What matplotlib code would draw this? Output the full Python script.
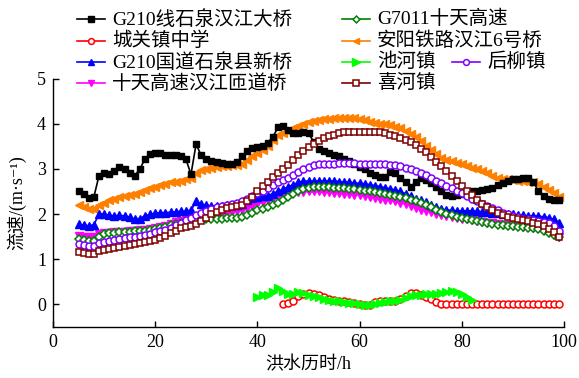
import numpy as np
import matplotlib
matplotlib.use("Agg")
import matplotlib.pyplot as plt
from matplotlib.lines import Line2D

plt.rcParams['font.family'] = ['Liberation Serif', 'Noto Sans CJK SC', 'DejaVu Serif']

# ---------------- data ----------------
hours = list(range(5, 100))

g210_bridge = [2.52, 2.45, 2.35, 2.38, 2.85, 2.90, 2.88, 2.95, 3.05, 3.00,
               2.90, 2.85, 3.00, 3.22, 3.33, 3.36, 3.35, 3.32, 3.30, 3.30,
               3.28, 3.22, 2.88, 3.55, 3.30, 3.22, 3.18, 3.15, 3.13, 3.12,
               3.12, 3.15, 3.28, 3.40, 3.47, 3.48, 3.50, 3.58, 3.70, 3.92,
               3.95, 3.86, 3.80, 3.80, 3.82, 3.80, 3.60, 3.45, 3.40, 3.35,
               3.32, 3.28, 3.22, 3.17, 3.12, 3.05, 3.00, 2.92, 2.86, 2.82,
               2.82, 2.94, 2.90, 2.80, 2.70, 2.60, 2.72, 2.80, 2.76, 2.68,
               2.60, 2.50, 2.42, 2.40, 2.42, 2.44, 2.47, 2.50, 2.52, 2.53,
               2.55, 2.58, 2.64, 2.68, 2.73, 2.77, 2.78, 2.80, 2.80, 2.72,
               2.50, 2.40, 2.33, 2.32, 2.32]

anyang_bridge = [2.20, 2.15, 2.12, 2.12, 2.20, 2.25, 2.30, 2.34, 2.38, 2.41,
                 2.43, 2.45, 2.49, 2.53, 2.57, 2.61, 2.64, 2.67, 2.70, 2.72,
                 2.74, 2.77, 2.80, 2.90, 2.97, 3.00, 3.03, 3.05, 3.06, 3.07,
                 3.08, 3.09, 3.12, 3.20, 3.28, 3.35, 3.43, 3.52, 3.65, 3.75,
                 3.80, 3.84, 3.90, 3.96, 4.00, 4.04, 4.07, 4.09, 4.10, 4.11,
                 4.12, 4.13, 4.14, 4.14, 4.13, 4.11, 4.08, 4.05, 4.02, 4.00,
                 3.99, 3.97, 3.94, 3.90, 3.84, 3.78, 3.70, 3.62, 3.52, 3.42,
                 3.33, 3.25, 3.20, 3.17, 3.14, 3.10, 3.06, 3.02, 3.00, 2.96,
                 2.90, 2.84, 2.80, 2.78, 2.77, 2.76, 2.74, 2.73, 2.72, 2.70,
                 2.66, 2.60, 2.54, 2.46, 2.38]

g210_new = [1.77, 1.75, 1.74, 1.76, 2.00, 2.00, 1.97, 1.96, 1.97, 1.96,
            1.93, 1.89, 1.90, 1.96, 1.99, 2.02, 2.03, 2.03, 2.04, 2.05,
            2.06, 2.07, 2.08, 2.28, 2.22, 2.19, 2.18, 2.18, 2.18, 2.19,
            2.20, 2.21, 2.23, 2.30, 2.36, 2.38, 2.39, 2.40, 2.45, 2.50,
            2.55, 2.60, 2.65, 2.70, 2.73, 2.73, 2.73, 2.73, 2.73, 2.73,
            2.73, 2.72, 2.71, 2.70, 2.69, 2.68, 2.67, 2.65, 2.63, 2.61,
            2.58, 2.56, 2.53, 2.50, 2.45, 2.39, 2.34, 2.30, 2.26, 2.20,
            2.15, 2.11, 2.09, 2.08, 2.07, 2.07, 2.07, 2.07, 2.06, 2.05,
            2.04, 2.03, 2.02, 2.01, 2.00, 1.99, 1.98, 1.97, 1.96, 1.96,
            1.95, 1.94, 1.92, 1.88, 1.80]

shitian_ramp = [1.51, 1.50, 1.48, 1.48, 1.55, 1.57, 1.58, 1.59, 1.60, 1.61,
                1.62, 1.63, 1.64, 1.65, 1.66, 1.68, 1.71, 1.74, 1.78, 1.82,
                1.85, 1.87, 1.89, 1.91, 1.93, 1.95, 1.97, 1.99, 2.01, 2.03,
                2.05, 2.07, 2.10, 2.14, 2.18, 2.22, 2.26, 2.30, 2.35, 2.39,
                2.42, 2.44, 2.46, 2.48, 2.49, 2.50, 2.50, 2.50, 2.49, 2.48,
                2.47, 2.46, 2.45, 2.44, 2.43, 2.42, 2.40, 2.38, 2.36, 2.34,
                2.32, 2.30, 2.28, 2.25, 2.22, 2.18, 2.14, 2.10, 2.07, 2.04,
                2.01, 1.98, 1.96, 1.94, 1.92, 1.90, 1.89, 1.87, 1.85, 1.83,
                1.81, 1.79, 1.77, 1.76, 1.75, 1.74, 1.73, 1.72, 1.71, 1.70,
                1.68, 1.65, 1.60, 1.54, 1.48]

g7011 = [1.44, 1.43, 1.41, 1.41, 1.50, 1.56, 1.58, 1.58, 1.59, 1.60,
         1.61, 1.62, 1.62, 1.63, 1.64, 1.66, 1.69, 1.72, 1.75, 1.78,
         1.80, 1.83, 1.85, 1.87, 1.88, 1.89, 1.90, 1.90, 1.90, 1.91,
         1.91, 1.92, 1.94, 1.98, 2.03, 2.08, 2.12, 2.15, 2.19, 2.25,
         2.32, 2.38, 2.44, 2.50, 2.55, 2.58, 2.59, 2.59, 2.59, 2.59,
         2.58, 2.58, 2.57, 2.56, 2.55, 2.53, 2.52, 2.50, 2.49, 2.47,
         2.45, 2.43, 2.41, 2.38, 2.35, 2.31, 2.28, 2.24, 2.20, 2.15,
         2.09, 2.04, 2.00, 1.97, 1.94, 1.91, 1.89, 1.87, 1.84, 1.82,
         1.79, 1.77, 1.76, 1.75, 1.74, 1.73, 1.72, 1.71, 1.70, 1.68,
         1.66, 1.63, 1.58, 1.53, 1.48]

houliu = [1.33, 1.31, 1.29, 1.29, 1.36, 1.39, 1.41, 1.43, 1.45, 1.47,
          1.48, 1.50, 1.52, 1.54, 1.56, 1.59, 1.62, 1.65, 1.70, 1.76,
          1.81, 1.86, 1.92, 1.97, 2.02, 2.07, 2.12, 2.15, 2.17, 2.19,
          2.22, 2.25, 2.29, 2.34, 2.40, 2.46, 2.52, 2.58, 2.64, 2.70,
          2.75, 2.80, 2.87, 2.94, 2.99, 3.04, 3.08, 3.10, 3.11, 3.12,
          3.12, 3.13, 3.13, 3.13, 3.13, 3.12, 3.12, 3.11, 3.11, 3.10,
          3.10, 3.09, 3.08, 3.06, 3.03, 2.99, 2.95, 2.90, 2.86, 2.80,
          2.74, 2.69, 2.63, 2.58, 2.52, 2.46, 2.40, 2.34, 2.28, 2.23,
          2.18, 2.13, 2.08, 2.03, 1.99, 1.96, 1.93, 1.90, 1.88, 1.86,
          1.85, 1.83, 1.79, 1.73, 1.62]

xihe = [1.15, 1.13, 1.11, 1.11, 1.17, 1.20, 1.23, 1.25, 1.27, 1.29,
        1.32, 1.34, 1.36, 1.38, 1.40, 1.43, 1.47, 1.52, 1.58, 1.63,
        1.68, 1.71, 1.74, 1.78, 1.85, 1.92, 1.99, 2.05, 2.09, 2.13,
        2.16, 2.18, 2.21, 2.28, 2.38, 2.50, 2.62, 2.72, 2.82, 2.92,
        3.00, 3.09, 3.19, 3.30, 3.39, 3.48, 3.56, 3.62, 3.68, 3.72,
        3.76, 3.79, 3.81, 3.83, 3.83, 3.83, 3.83, 3.83, 3.82, 3.81,
        3.79, 3.76, 3.72, 3.69, 3.65, 3.60, 3.53, 3.45, 3.37, 3.27,
        3.16, 3.07, 2.96, 2.84, 2.73, 2.62, 2.52, 2.42, 2.32, 2.23,
        2.15, 2.08, 2.02, 1.97, 1.93, 1.91, 1.88, 1.86, 1.84, 1.81,
        1.78, 1.74, 1.67, 1.59, 1.50]

chihe_hours = list(range(40, 83))
chihe = [0.15, 0.20, 0.21, 0.28, 0.36, 0.30, 0.22, 0.23, 0.26, 0.25,
         0.21, 0.18, 0.15, 0.12, 0.10, 0.08, 0.06, 0.04, 0.03, 0.02,
         0.00, -0.01, -0.02, 0.01, 0.03, 0.05, 0.06, 0.07, 0.09, 0.14,
         0.18, 0.20, 0.21, 0.22, 0.23, 0.23, 0.25, 0.27, 0.29, 0.26,
         0.22, 0.17, 0.10]

chengguan_hours = list(range(45, 100))
chengguan = [0.00, 0.03, 0.08, 0.18, 0.22, 0.24, 0.22, 0.20, 0.15, 0.12,
             0.10, 0.08, 0.06, 0.04, 0.02, 0.00, -0.02, -0.01, 0.04, 0.07,
             0.07, 0.06, 0.08, 0.12, 0.19, 0.24, 0.25, 0.20, 0.15, 0.12,
             0.05, 0.00, 0.00, 0.00, 0.00, 0.00, 0.00, 0.00, 0.00, 0.00,
             0.00, 0.00, 0.00, 0.00, 0.00, 0.00, 0.00, 0.00, 0.00, 0.00,
             0.00, 0.00, 0.00, 0.00, 0.00]

labels = {
    'black': 'G210线石泉汉江大桥',
    'green': 'G7011十天高速',
    'red': '城关镇中学',
    'orange': '安阳铁路汉江6号桥',
    'blue': 'G210国道石泉县新桥',
    'lime': '池河镇',
    'purple': '后柳镇',
    'magenta': '十天高速汉江匝道桥',
    'brown': '喜河镇',
}

# ---------------- figure ----------------
W, H = 579, 378
fig = plt.figure(figsize=(W / 100, H / 100), dpi=100)
ax = fig.add_axes([53 / W, 1 - 326.7 / H, (564 - 53) / W, (326.7 - 78.8) / H])

styles = {
    'black': dict(color='black', marker='s', ms=5.0, mfc='black', zorder=2.6),
    'green': dict(color='#008000', marker='D', ms=4.3, mfc='white', mew=1.1, zorder=3),
    'red': dict(color='#ff0000', marker='o', ms=5.0, mfc='white', mew=1.1, zorder=3),
    'orange': dict(color='#ff8000', marker='<', ms=5.6, mfc='#ff8000', zorder=2.4),
    'blue': dict(color='#0000ff', marker='^', ms=5.6, mfc='#0000ff', zorder=2.5),
    'lime': dict(color='#00ff00', marker='>', ms=6.2, mfc='#00ff00', zorder=3.5),
    'purple': dict(color='#8000ff', marker='o', ms=5.0, mfc='white', mew=1.1, zorder=3.4),
    'magenta': dict(color='#ff00ff', marker='v', ms=5.6, mfc='#ff00ff', zorder=2.2),
    'brown': dict(color='#800000', marker='s', ms=5.0, mfc='white', mew=1.1, zorder=4),
}

series = [
    ('black', hours, g210_bridge),
    ('green', hours, g7011),
    ('red', chengguan_hours, chengguan),
    ('orange', hours, anyang_bridge),
    ('blue', hours, g210_new),
    ('lime', chihe_hours, chihe),
    ('purple', hours, houliu),
    ('magenta', hours, shitian_ramp),
    ('brown', hours, xihe),
]
for key, xs, ys in series:
    ax.plot(xs, ys, lw=1.2, label=labels[key], **styles[key])

ax.set_xlim(0, 100)
ax.set_ylim(-0.5, 5)
ax.set_xticks([0, 20, 40, 60, 80, 100])
ax.set_yticks([0, 1, 2, 3, 4, 5])
ax.spines['top'].set_visible(False)
ax.spines['right'].set_visible(False)
for s in ('left', 'bottom'):
    ax.spines[s].set_linewidth(1.0)
ax.tick_params(direction='in', length=4, width=1.0, labelsize=13, pad=5)
ax.set_xlabel('洪水历时/h', fontsize=13, labelpad=4)
ax.set_ylabel('流速/(m·s⁻¹)', fontsize=13, labelpad=8)

# ---------------- legend (manual layout) ----------------
def entry(x, y, key):
    st = styles[key]
    fx0, fx1 = x / W, (x + 28) / W
    fy = 1 - y / H
    fig.add_artist(Line2D([fx0, fx1], [fy, fy], transform=fig.transFigure,
                          color=st['color'], lw=1.2))
    fig.add_artist(Line2D([(fx0 + fx1) / 2], [fy], transform=fig.transFigure,
                          color=st['color'], marker=st['marker'], ms=st['ms'] - 0.8,
                          mfc=st['mfc'], mew=st.get('mew', 1.0), lw=0))
    fig.text((x + 35) / W, fy, labels[key], fontsize=14, va='center', ha='left')

rows = [19, 41, 62, 83]
entry(77, rows[0], 'black')
entry(77, rows[1], 'red')
entry(77, rows[2], 'blue')
entry(77, rows[3], 'magenta')
entry(342, rows[0], 'green')
entry(342, rows[1], 'orange')
entry(342, rows[2], 'lime')
entry(452, rows[2], 'purple')
entry(342, rows[3], 'brown')

fig.savefig('out.png', dpi=100)
